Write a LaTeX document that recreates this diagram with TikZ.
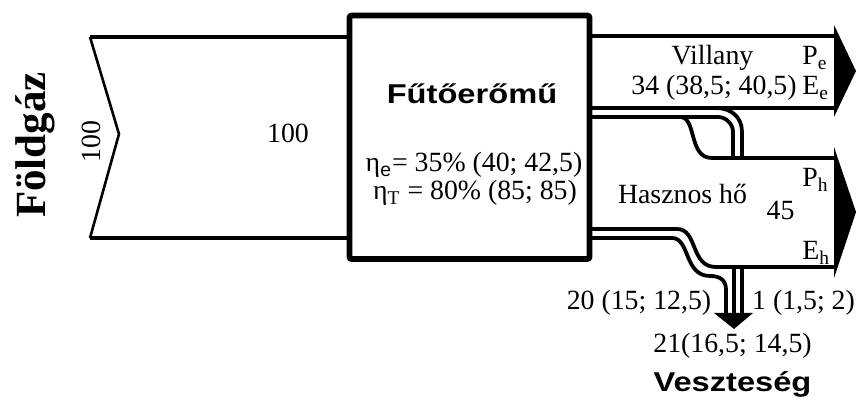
\documentclass[tikz,border=0pt]{standalone}
\usepackage{fontspec}
\setmainfont{Liberation Serif}
\setsansfont{Liberation Sans}
\newfontfamily\headfont{Liberation Sans}[FakeStretch=1.2]
\begin{document}
\begin{tikzpicture}[x=0.5pt,y=-0.5pt,
  flow/.style={line width=1.9pt},
  notch/.style={line width=1.3pt},
  plantbox/.style={draw,line width=2.8pt,rounded corners=1pt,minimum width=120pt,minimum height=121.75pt,inner sep=0pt},
  lbl/.style={font=\fontsize{13.9}{16}\selectfont,inner sep=0pt},
  head/.style={font=\headfont\bfseries\fontsize{13.6}{16}\selectfont,inner sep=0pt},
  gas/.style={font=\bfseries\fontsize{21.5}{24}\selectfont,inner sep=0pt},
  tiphead/.style={fill=black}]
\useasboundingbox (0,0) rectangle (856,400);

% power plant block
\node[plantbox] (plant) at (469.5,137.25) {};

% natural gas input band
\draw[flow] (348,37) -- (90,37);
\draw[flow] (90,238) -- (348,238);
\draw[notch] (90,37) -- (119,134) -- (90,238);

% electricity band and its arrow
\draw[flow] (591,36) -- (835,36);
\draw[flow] (591,108) -- (835,108);
\fill[tiphead] (834,25) -- (856,71) -- (834,117) -- cycle;

% small loss stream leaving under the electricity band
\draw[flow] (591,117) -- (718,117) .. controls (726,117) and (733,124) .. (733,132) -- (733,158);
\draw[flow] (716,108) .. controls (731,108) and (742,117) .. (742,132) -- (742,158);

% useful heat band and its arrow
\draw[flow] (680,117) .. controls (697,117) and (688,158) .. (712,158) -- (835,158);
\draw[flow] (591,229) -- (677,229) .. controls (698,229) and (690,267) .. (716,267) -- (835,267);
\fill[tiphead] (834,147) -- (856,212) -- (834,278) -- cycle;

% main loss stream and combined loss arrow
\draw[flow] (591,238) -- (672,238) .. controls (690,238) and (684,276) .. (710,276)
  .. controls (720,276) and (726,280) .. (726,290) -- (726,313);
\draw[flow] (734,267) -- (734,313);
\draw[flow] (742,267) -- (742,313);
\fill[tiphead] (714,313) -- (753,313) -- (734,329) -- cycle;

% labels
\node[gas,rotate=90,anchor=base] (gasname) at (46,145) {Földgáz};
\node[lbl,rotate=90,anchor=base] (gasin) at (100,141.5) {100};
\node[lbl,anchor=base] (gasflow) at (288,143) {100};

\node[head,anchor=base] (plantname) at (472,104) {Fűtőerőmű};
\node[lbl,anchor=base] (etae) at (474,172) {η\textsubscript{\sffamily e}= 35\% (40; 42,5)};
\node[lbl,anchor=base] (etat) at (475,200) {η\textsubscript{T} = 80\% (85; 85)};

\node[lbl,anchor=base] (elname) at (712.5,65) {Villany};
\node[lbl,anchor=base west] (pe) at (802,65) {P\textsubscript{e}};
\node[lbl,anchor=base] (elval) at (714,95) {34 (38,5; 40,5)};
\node[lbl,anchor=base west] (ee) at (802,95) {E\textsubscript{e}};

\node[lbl,anchor=base] (heatname) at (682.5,204) {Hasznos hő};
\node[lbl,anchor=base] (heatval) at (780.5,220) {45};
\node[lbl,anchor=base west] (ph) at (802,187) {P\textsubscript{h}};
\node[lbl,anchor=base west] (eh) at (802,260) {E\textsubscript{h}};

\node[lbl,anchor=base] (lossa) at (639,310) {20 (15; 12,5)};
\node[lbl,anchor=base] (lossb) at (803.5,310) {1 (1,5; 2)};
\node[lbl,anchor=base] (losssum) at (732.5,353) {21(16,5; 14,5)};
\node[head,anchor=base] (lossname) at (732.5,392) {Veszteség};
\end{tikzpicture}
\end{document}
